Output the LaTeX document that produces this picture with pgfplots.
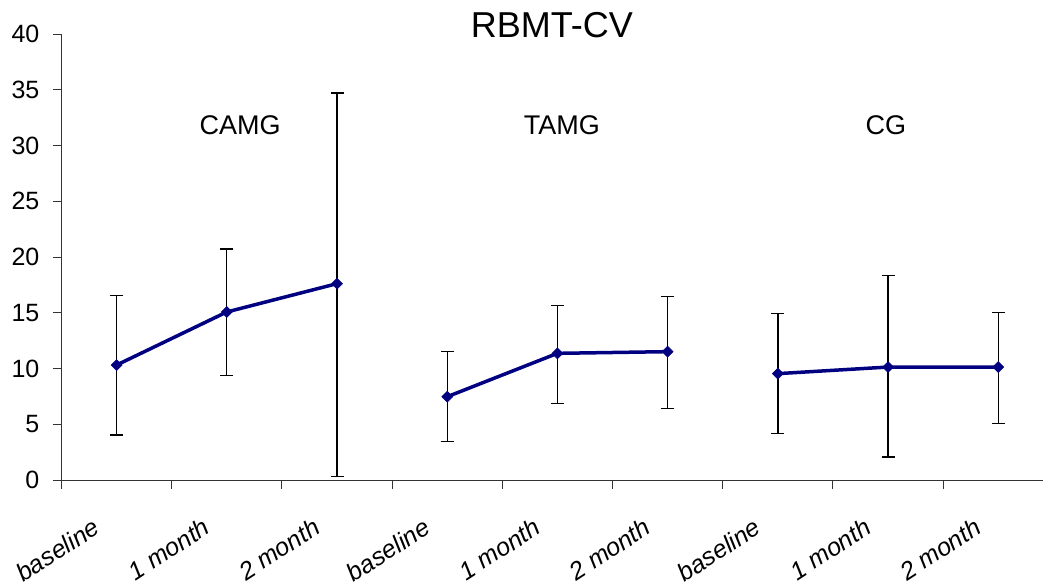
\documentclass[border=0pt]{standalone}
\usepackage{fontspec}
\setmainfont{Liberation Sans}
\usepackage{pgfplots}
\pgfplotsset{compat=1.18}
\usepackage{pgfplotstable}

\definecolor{navy}{RGB}{0,0,128}

% square diamond, as wide as it is tall
\pgfdeclareplotmark{sqdiamond}{%
  \pgfpathmoveto{\pgfqpoint{0pt}{\pgfplotmarksize}}%
  \pgfpathlineto{\pgfqpoint{\pgfplotmarksize}{0pt}}%
  \pgfpathlineto{\pgfqpoint{0pt}{-\pgfplotmarksize}}%
  \pgfpathlineto{\pgfqpoint{-\pgfplotmarksize}{0pt}}%
  \pgfpathclose
  \pgfusepathqfillstroke}
% cap for the error bars (pgfplots turns it by 90 degrees for y bars)
\pgfdeclareplotmark{ecap}{%
  \pgfpathmoveto{\pgfqpoint{0pt}{-6.5bp}}%
  \pgfpathlineto{\pgfqpoint{0pt}{6.5bp}}%
  \pgfusepathqstroke}

% x  y  plus  minus
\pgfplotstableread{
x y ep em
0 10.31 6.22 6.27
1 15.07 5.65 5.68
2 17.61 17.09 17.31
}\camg
\pgfplotstableread{
x y ep em
3 7.47 4.04 4.03
4 11.36 4.27 4.51
5 11.51 4.93 5.08
}\tamg
\pgfplotstableread{
x y ep em
6 9.54 5.38 5.39
7 10.13 8.20 8.07
8 10.13 4.91 5.08
}\cg

\pgfplotsset{
  grp/.style={
    navy, line width=3.5bp,
    mark=sqdiamond, mark size=5.5bp,
    mark options={fill=navy, draw=navy, solid, line width=0.5bp},
    error bars/.cd,
      y dir=both, y explicit,
      error mark=ecap,
      error bar style={black, line width=1.3bp},
      error mark options={black, line width=1.3bp},
  },
}

\begin{document}
\begin{tikzpicture}
\begin{axis}[
    scale only axis,
    width=981.5bp, height=446bp,
    xmin=-0.5, xmax=8.406,
    ymin=0, ymax=40,
    ytick={0,5,...,40},
    xtick={0,...,8},
    xticklabels={baseline,1 month,2 month,baseline,1 month,2 month,baseline,1 month,2 month},
    minor xtick={-0.5,0.5,...,7.5},
    axis lines=left,
    axis line style={-, line width=1bp, black!80},
    tick align=outside,
    major tick length=8.6bp,
    minor tick length=8.6bp,
    x tick style={draw=none},
    minor x tick style={draw=black!80, line width=1bp},
    y tick style={black!80, line width=1bp},
    /pgf/number format/assume math mode=true,
    yticklabel style={font=\fontsize{25bp}{30bp}\selectfont, xshift=-10bp},
    xticklabel style={font=\fontsize{25bp}{29bp}\selectfont\itshape, anchor=north east, inner sep=0pt, xshift=-25bp, yshift=-28bp, rotate=33},
    clip=false,
]
\addplot[grp] table[x=x, y=y, y error plus=ep, y error minus=em] {\camg};
\addplot[grp] table[x=x, y=y, y error plus=ep, y error minus=em] {\tamg};
\addplot[grp] table[x=x, y=y, y error plus=ep, y error minus=em] {\cg};

\node[anchor=base, font=\fontsize{36bp}{40bp}\selectfont] at (axis cs:3.95,39.73) {RBMT-CV};
\node[anchor=base, font=\fontsize{27bp}{30bp}\selectfont] at (axis cs:1.12,31.0) {CAMG};
\node[anchor=base, font=\fontsize{27bp}{30bp}\selectfont] at (axis cs:4.04,31.0) {TAMG};
\node[anchor=base, font=\fontsize{27bp}{30bp}\selectfont] at (axis cs:6.98,31.0) {CG};
\end{axis}
\pgfresetboundingbox
\useasboundingbox (-61.5bp,-108bp) rectangle (982.5bp,480bp);
\end{tikzpicture}
\end{document}
